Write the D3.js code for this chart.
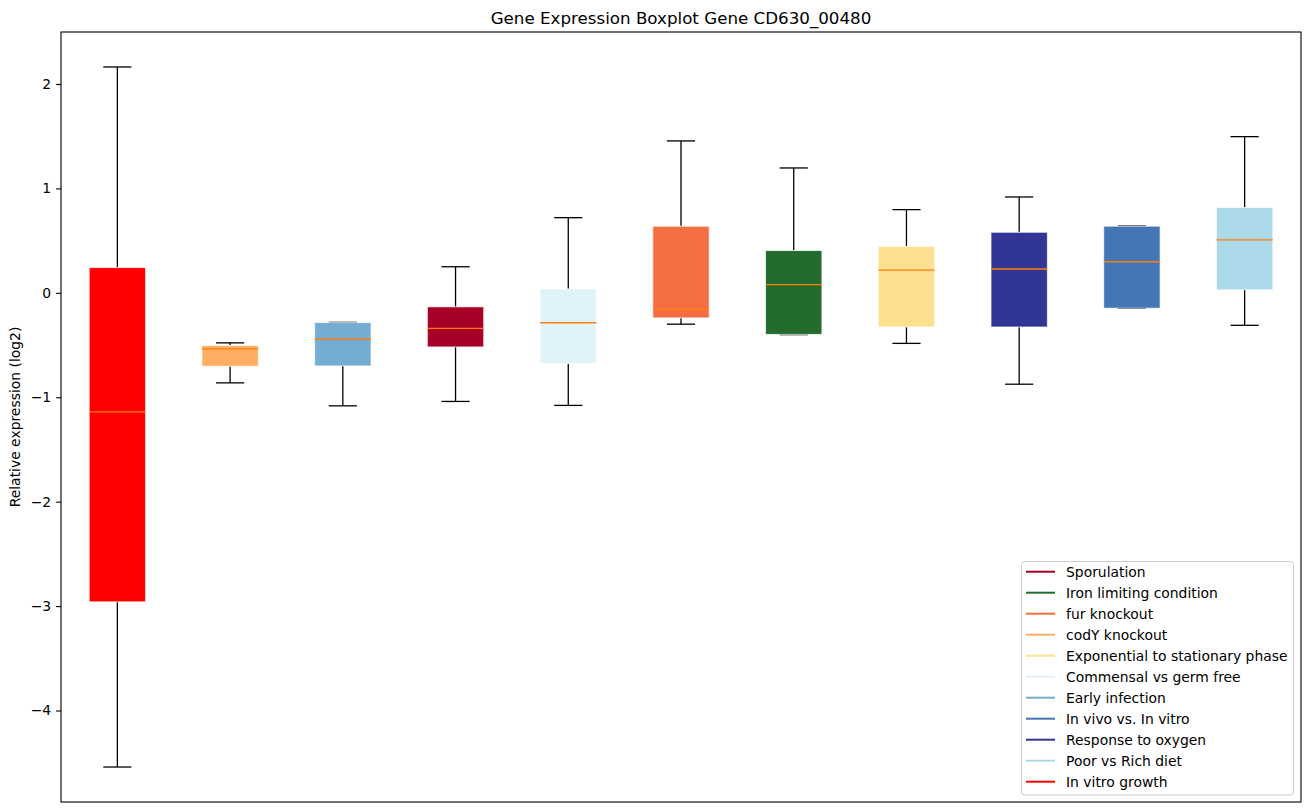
<!DOCTYPE html>
<html>
<head>
<meta charset="utf-8">
<script src="https://cdn.jsdelivr.net/npm/d3@7/dist/d3.min.js"></script>
<style>
  html, body { margin: 0; padding: 0; background: #fff; }
  svg { display: block; font-family: "DejaVu Sans", sans-serif; }
</style>
</head>
<body>
<svg id="chart" width="1309" height="812"></svg>
<script>
// ---- data (left to right) ----
const categories = ["In vitro growth", "codY knockout", "Early infection", "Sporulation",
  "Commensal vs germ free", "fur knockout", "Iron limiting condition",
  "Exponential to stationary phase", "Response to oxygen", "In vivo vs. In vitro", "Poor vs Rich diet"];
const colors = ["#ff0000", "#fdae61", "#74add1", "#a50026", "#e0f3f8", "#f46d43",
  "#246b2e", "#fee090", "#313695", "#4575b4", "#abd9e9"];
const whiskerLow  = [-4.541, -0.862, -1.082, -1.040, -1.078, -0.300, -0.400, -0.484, -0.875, -0.148, -0.311];
const q1          = [-2.959, -0.703, -0.700, -0.518, -0.678, -0.240, -0.398, -0.327, -0.327, -0.147,  0.029];
const median      = [-1.140, -0.537, -0.444, -0.340, -0.287, -0.157,  0.079,  0.218,  0.228,  0.298,  0.507];
const q3          = [ 0.242, -0.505, -0.285, -0.134,  0.038,  0.638,  0.405,  0.445,  0.580,  0.638,  0.816];
const whiskerHigh = [ 2.163, -0.479, -0.283,  0.250,  0.720,  1.455,  1.196,  0.797,  0.918,  0.640,  1.496];
const legendOrder = ["Sporulation", "Iron limiting condition", "fur knockout", "codY knockout",
  "Exponential to stationary phase", "Commensal vs germ free", "Early infection",
  "In vivo vs. In vitro", "Response to oxygen", "Poor vs Rich diet", "In vitro growth"];
const yTicks = [-4, -3, -2, -1, 0, 1, 2];
const titleText = "Gene Expression Boxplot Gene CD630_00480";
const yLabel = "Relative expression (log2)";

// ---- layout ----
const svg = d3.select("#chart");
const L = 61, R = 1301, T = 32, B = 802;
const x = d3.scaleLinear().domain([0.5, 11.5]).range([L, R]);
const y = d3.scaleLinear().domain([-4.876, 2.498]).range([B, T]);
const boxW = x(1.5) - x(1.0);    // 0.5 units
const capW = x(1.25) - x(1.0);   // 0.25 units

const data = categories.map((c, i) => ({
  name: c, color: colors[i], pos: i + 1,
  lo: whiskerLow[i], q1: q1[i], med: median[i], q3: q3[i], hi: whiskerHigh[i]
}));

const g = svg.append("g");

// whiskers
g.selectAll(".wl").data(data).join("line")
  .attr("x1", d => x(d.pos)).attr("x2", d => x(d.pos))
  .attr("y1", d => y(d.q1)).attr("y2", d => y(d.lo))
  .attr("stroke", "#000").attr("stroke-width", 1.3);
g.selectAll(".wh").data(data).join("line")
  .attr("x1", d => x(d.pos)).attr("x2", d => x(d.pos))
  .attr("y1", d => y(d.q3)).attr("y2", d => y(d.hi))
  .attr("stroke", "#000").attr("stroke-width", 1.3);
// caps
["lo", "hi"].forEach(k => {
  g.selectAll(".cap" + k).data(data).join("line")
    .attr("x1", d => x(d.pos) - capW / 2).attr("x2", d => x(d.pos) + capW / 2)
    .attr("y1", d => y(d[k])).attr("y2", d => y(d[k]))
    .attr("stroke", "#000").attr("stroke-width", 1.3);
});
// boxes
g.selectAll(".box").data(data).join("rect")
  .attr("x", d => x(d.pos) - boxW / 2)
  .attr("width", boxW)
  .attr("y", d => y(d.q3))
  .attr("height", d => y(d.q1) - y(d.q3))
  .attr("fill", d => d.color)
  .attr("stroke", "rgba(255,255,255,0.7)")
  .attr("stroke-width", 1);
// medians
g.selectAll(".med").data(data).join("line")
  .attr("x1", d => x(d.pos) - boxW / 2).attr("x2", d => x(d.pos) + boxW / 2)
  .attr("y1", d => y(d.med)).attr("y2", d => y(d.med))
  .attr("stroke", "#ff7f0e").attr("stroke-width", 1.4);

// y axis
const yAxis = d3.axisLeft(y).tickValues(yTicks)
  .tickFormat(d => String(d).replace("-", "\u2212"))
  .tickSize(4.9).tickPadding(4.9);
const ya = svg.append("g").attr("transform", `translate(${L},0)`).call(yAxis);
ya.select(".domain").remove();
ya.selectAll("line").attr("stroke", "#000").attr("stroke-width", 1.1);
ya.selectAll("text").attr("font-size", "13.9px").attr("fill", "#000")
  .attr("font-family", "DejaVu Sans, sans-serif");

// frame
svg.append("rect").attr("x", L).attr("y", T).attr("width", R - L).attr("height", B - T)
  .attr("fill", "none").attr("stroke", "#000").attr("stroke-width", 1.1);

// title
svg.append("text").attr("x", (L + R) / 2).attr("y", 24).attr("text-anchor", "middle")
  .attr("font-size", "16.7px").attr("fill", "#000").text(titleText);

// y label
svg.append("text").attr("transform", `translate(20,${(T + B) / 2}) rotate(-90)`)
  .attr("text-anchor", "middle").attr("font-size", "13.9px").attr("fill", "#000").text(yLabel);

// legend
const lg = svg.append("g");
const lx = 1021.5, ly = 561.5, lw = 272, lh = 233.5;
lg.append("rect").attr("x", lx).attr("y", ly).attr("width", lw).attr("height", lh)
  .attr("rx", 3).attr("fill", "rgba(255,255,255,0.8)").attr("stroke", "#cccccc").attr("stroke-width", 1);
const colorOf = Object.fromEntries(categories.map((c, i) => [c, colors[i]]));
const rows = lg.selectAll(".row").data(legendOrder).join("g")
  .attr("transform", (d, i) => `translate(0,${571.7 + i * 21})`);
rows.append("line").attr("x1", 1026).attr("x2", 1055).attr("y1", 0).attr("y2", 0)
  .attr("stroke", d => colorOf[d]).attr("stroke-width", 2);
rows.append("text").attr("x", 1066).attr("y", 5).attr("font-size", "13.9px")
  .attr("fill", "#000").text(d => d);
</script>
</body>
</html>
